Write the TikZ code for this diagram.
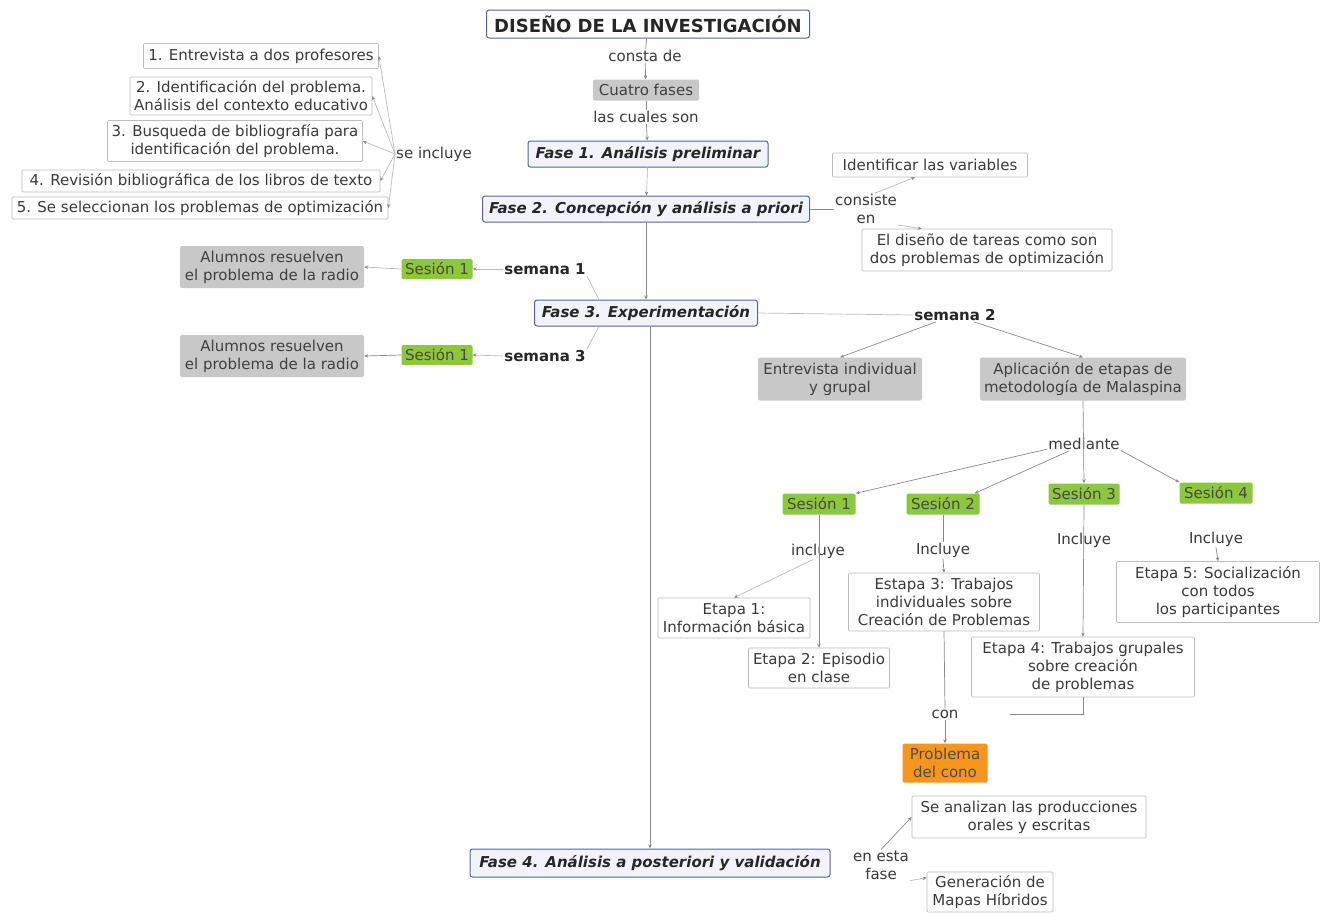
\documentclass[tikz,border=0pt]{standalone}
\usepackage{fontspec}
\setmainfont{DejaVu Sans}
\usetikzlibrary{arrows.meta}
\definecolor{ink}{HTML}{3A3A3A}
\definecolor{boxline}{HTML}{BDBDBD}
\definecolor{graybox}{HTML}{C8C8C8}
\definecolor{sesiongreen}{HTML}{8DC63F}
\definecolor{sesiontext}{HTML}{4A4A3A}
\definecolor{faseline}{HTML}{55649A}
\definecolor{fasefill}{HTML}{F1F2FA}
\definecolor{conefill}{HTML}{F7961E}
\definecolor{linegray}{HTML}{8A8A8A}
\definecolor{lightline}{HTML}{BBBBBB}
\begin{document}
\begin{tikzpicture}[x=1pt,y=-1pt,
  txt/.style={font=\fontsize{15}{18}\selectfont, text=ink, align=center, inner sep=1pt},
  sz/.style 2 args={minimum width=#1pt, minimum height=#2pt, inner sep=0pt},
  wbox/.style={txt, draw=boxline, fill=white, line width=0.6pt, rounded corners=1pt},
  gbox/.style={txt, fill=graybox, text=black!75, rounded corners=2pt},
  sesion/.style={txt, fill=sesiongreen, text=sesiontext, rounded corners=1.5pt},
  cone/.style={txt, fill=conefill, text=black!70, rounded corners=1.5pt},
  fase/.style={txt, font=\fontsize{15}{18}\selectfont\bfseries\itshape, text=black!85,
               draw=faseline, line width=1pt, fill=fasefill, rounded corners=2.5pt},
  titlebox/.style={txt, font=\fontsize{18}{21}\selectfont\bfseries, text=black!85,
               draw=faseline, line width=1pt, fill=white, rounded corners=2.5pt},
  week/.style={txt, font=\fontsize{15}{18}\selectfont\bfseries, text=black!85},
  link/.style={draw=linegray, line width=0.7pt},
  faint/.style={draw=lightline, line width=0.7pt},
  arr/.style={link, -{Stealth[length=4pt,width=3.5pt]}},
  farr/.style={faint, -{Stealth[length=4pt,width=3.5pt,color=linegray]}}
]
\useasboundingbox[fill=white] (0,0) rectangle (1328,914);

% ---------- main column ----------
\node[titlebox, sz={323}{28}] (title) at (648,24) {DISEÑO DE LA INVESTIGACIÓN};
\node[txt] (consta) at (645,56) {consta de};
\node[gbox, sz={106}{21}] (cuatro) at (646,90) {Cuatro fases};
\node[txt] (cuales) at (646,117) {las cuales son};
\node[fase, sz={240}{26}] (f1) at (648,154) {Fase 1. Análisis preliminar};
\node[fase, sz={327}{26}] (f2) at (646,209) {Fase 2. Concepción y análisis a priori};
\node[fase, sz={223}{26}] (f3) at (646,313) {Fase 3. Experimentación};
\node[fase, sz={360}{28}] (f4) at (650,863) {Fase 4. Análisis a posteriori y validación};

% ---------- phase 1 items ----------
\node[txt] (seinc) at (434,154) {se incluye};
\node[wbox, sz={235}{25}] (l1) at (261,56) {1. Entrevista a dos profesores};
\node[wbox, sz={242}{38}] (l2) at (251,96) {2. Identificación del problema.\\Análisis del contexto educativo};
\node[wbox, sz={255}{41}] (l3) at (235,141) {3. Busqueda de bibliografía para\\identificación del problema.};
\node[wbox, sz={358}{22}] (l4) at (201,181) {4. Revisión bibliográfica de los libros de texto};
\node[wbox, sz={376}{22}] (l5) at (200,208) {5. Se seleccionan los problemas de optimización};

% ---------- phase 2 items ----------
\node[txt] (consiste) at (866,209) {consiste\\en};
\node[wbox, sz={195}{24}] (idvar) at (930,165) {Identificar las variables};
\node[wbox, sz={250}{42}] (diseno) at (987,250) {El diseño de tareas como son\\dos problemas de optimización};

% ---------- phase 3: weeks 1 and 3 ----------
\node[week] (sem1) at (545,269) {semana 1};
\node[sesion, sz={71}{20}] (ses1a) at (437,269) {Sesión 1};
\node[gbox, sz={184}{42}] (alum1) at (272,267) {Alumnos resuelven\\el problema de la radio};
\node[week] (sem3) at (545,356) {semana 3};
\node[sesion, sz={71}{20}] (ses1b) at (437,355) {Sesión 1};
\node[gbox, sz={184}{42}] (alum3) at (272,356) {Alumnos resuelven\\el problema de la radio};

% ---------- phase 3: week 2 ----------
\node[week] (sem2) at (955,315) {semana 2};
\node[gbox, sz={164}{43}] (entrev) at (840,379) {Entrevista individual\\y grupal};
\node[gbox, sz={206}{43}] (aplic) at (1083,379) {Aplicación de etapas de\\metodología de Malaspina};
\node[txt] (mediante) at (1084,444) {mediante};
\node[sesion, sz={73}{21}] (s1) at (819,504) {Sesión 1};
\node[sesion, sz={73}{21}] (s2) at (943,504) {Sesión 2};
\node[sesion, sz={71}{21}] (s3) at (1084,494) {Sesión 3};
\node[sesion, sz={73}{21}] (s4) at (1216,493) {Sesión 4};
\node[txt] (inc1) at (818,551) {incluye};
\node[txt] (inc2) at (943,550) {Incluye};
\node[txt] (inc3) at (1084,540) {Incluye};
\node[txt] (inc4) at (1216,539) {Incluye};
\node[wbox, sz={152}{40}] (e1) at (734,618) {Etapa 1:\\Información básica};
\node[wbox, sz={141}{40}] (e2) at (819,668) {Etapa 2: Episodio\\en clase};
\node[wbox, sz={191}{58}] (e3) at (944,602) {Estapa 3: Trabajos\\individuales sobre\\Creación de Problemas};
\node[wbox, sz={223}{60}] (e4) at (1083,667) {Etapa 4: Trabajos grupales\\sobre creación\\de problemas};
\node[wbox, sz={203}{61}] (e5) at (1218,592) {Etapa 5: Socialización\\con todos\\los participantes};
\node[txt] (con) at (945,714) {con};
\node[cone, sz={85}{39}] (cono) at (945,763) {Problema\\del cono};

% ---------- phase 4 items ----------
\node[txt] (enesta) at (881,865) {en esta\\fase};
\node[wbox, sz={234}{42}] (seanal) at (1029,817) {Se analizan las producciones\\orales y escritas};
\node[wbox, sz={126}{40}] (genmap) at (990,892) {Generación de\\Mapas Híbridos};

% ---------- connectors: main column ----------
\draw[link] (title) -- (consta);
\draw[arr] (consta) -- (cuatro);
\draw[link] (cuatro) -- (cuales);
\draw[arr] (cuales) -- (f1);
\draw[farr] (f1) -- (f2);
\draw[arr] (f2.south) -- (f3.north);
\draw[arr] (f4.north |- f3.south) -- (f4.north);

% phase 1 list
\draw[farr] (seinc.west) -- (l1.east);
\draw[farr] (seinc.west) -- (l2.east);
\draw[farr] (seinc.west) -- (l3.east);
\draw[farr] (seinc.west) -- (l4.east);
\draw[farr] (seinc.west) -- (l5.east);

% phase 2
\draw[link] (f2.east) -- (consiste.west |- f2.east);
\draw[farr] (consiste.60) -- ([xshift=-15pt]idvar.south);
\draw[farr] (consiste.south east) -- ([xshift=60pt]diseno.north west);

% phase 3, weeks 1 and 3
\draw[faint] (f3.164) -- (sem1.south east);
\draw[farr] (sem1.west) -- (ses1a.east);
\draw[farr] (ses1a.west) -- (alum1.east);
\draw[faint] (f3.196) -- (sem3.north east);
\draw[farr] (sem3.west) -- (ses1b.east);
\draw[arr] (ses1b.west) -- (alum3.east);

% phase 3, week 2
\draw[faint] (f3.east) -- (sem2.west);
\draw[arr] (sem2.200) -- (entrev.north);
\draw[arr] (sem2.-20) -- (aplic.north);
\draw[arr] (aplic.south) -- (s3.north);
\draw[arr] (mediante.188) -- (s1.north east);
\draw[arr] (mediante.205) -- ([xshift=-5pt]s2.north east);
\draw[arr] (mediante.-10) -- (s4.north west);
\draw[arr] (s1.south) -- (e2.north);
\draw[farr] (inc1.240) -- (e1.north);
\draw[link] (s2.south) -- (inc2.north);
\draw[arr] (inc2.south) -- (e3.north);
\draw[arr] (s3.south) -- (e4.north);
\draw[arr] (inc4.south) -- (e5.north);
\draw[link] (e3.south) -- (con.north);
\draw[link, shorten >=50pt] (e4.south) |- (con.east);
\draw[arr] (con.south) -- (cono.north);

% phase 4
\draw[arr] (enesta.north) -- (seanal.west);
\draw[farr] (enesta.south east) -- ([yshift=-6pt]genmap.north west);
\end{tikzpicture}
\end{document}
